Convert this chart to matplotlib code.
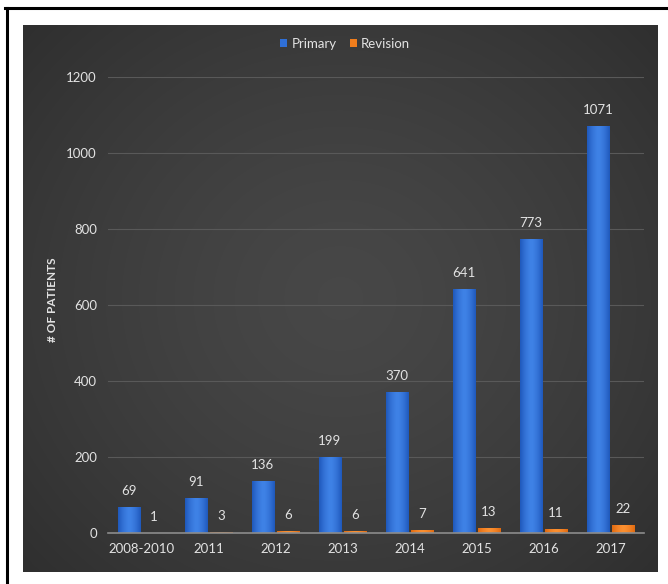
import numpy as np
import matplotlib
matplotlib.use("Agg")
import matplotlib.pyplot as plt
from matplotlib.patches import Patch
from matplotlib.lines import Line2D

categories = ["2008-2010", "2011", "2012", "2013", "2014", "2015", "2016", "2017"]
primary = [69, 91, 136, 199, 370, 641, 773, 1071]
revision = [1, 3, 6, 6, 7, 13, 11, 22]
y_ticks = [0, 200, 400, 600, 800, 1000, 1200]

W, H = 668, 584
TEXT = "#e2e2e2"
BLUE = "#2f6fd6"
ORANGE = "#f07d1c"

plt.rcParams["font.family"] = ["Lato", "DejaVu Sans"]

fig = plt.figure(figsize=(W / 100, H / 100), dpi=100, facecolor="white")


def fx(px):
    return px / W


def fy(py):
    return 1 - py / H


# black frame on top and left
fig.add_artist(Line2D([fx(5), fx(668)], [fy(8), fy(8)], color="black", lw=2.2))
fig.add_artist(Line2D([fx(6.5), fx(6.5)], [fy(8), fy(584)], color="black", lw=2.2))

# dark panel with a soft radial gradient
bg = fig.add_axes([fx(23), fy(572), fx(658) - fx(23), (572 - 25) / H], zorder=0)
gy, gx = np.mgrid[0:1:300j, 0:1:350j]
r = np.sqrt(((gx - 0.5) / 0.6) ** 2 + ((gy - 0.5) / 0.65) ** 2)
shade = np.clip(0.28 - 0.08 * r ** 1.4, 0.16, 0.30)
img = np.dstack([shade, shade, shade])
bg.imshow(img, aspect="auto", extent=[0, 1, 0, 1], interpolation="bilinear")
bg.set_axis_off()

# main plotting axes
ax = fig.add_axes([fx(108), fy(533), fx(644) - fx(108), (533 - 77) / H], zorder=1)
ax.set_facecolor("none")
x = np.arange(len(categories))
bw = 0.33
gap = 0.022

bars_p = ax.bar(x - bw / 2 - gap, primary, bw, color=BLUE, edgecolor="#14284a", linewidth=0.7, zorder=3)
bars_r = ax.bar(x + bw / 2 + gap, revision, bw, color=ORANGE, edgecolor="#4a2a10", linewidth=0.7, zorder=3)


def shade_bars(bars, dark, light):
    dark = np.array(matplotlib.colors.to_rgb(dark))
    light = np.array(matplotlib.colors.to_rgb(light))
    t = np.linspace(-1, 1, 64)
    w = 1 - np.abs(t) ** 1.6
    row = dark[None, :] * (1 - w[:, None]) + light[None, :] * w[:, None]
    grad = row[None, :, :]
    for b in bars:
        x0, y0 = b.get_x(), b.get_y()
        im = ax.imshow(grad, aspect="auto", extent=[x0, x0 + b.get_width(), y0, y0 + b.get_height()],
                       interpolation="bilinear", zorder=3.5)
        im.set_clip_path(b)


shade_bars(bars_p, "#1f58bb", "#3f82e6")
shade_bars(bars_r, "#e06a10", "#fb8f30")

for b, v in zip(list(bars_p) + list(bars_r), primary + revision):
    ax.annotate(str(v), (b.get_x() + b.get_width() / 2, b.get_height()),
                xytext=(0, 11.5), textcoords="offset points", ha="center", va="center",
                color=TEXT, fontsize=9.5, zorder=5, annotation_clip=False)

ax.set_xlim(-0.5, len(categories) - 0.5)
ax.set_ylim(0, 1200)
ax.set_yticks(y_ticks)
ax.set_xticks(x)
ax.set_xticklabels(categories)
ax.tick_params(axis="both", length=0, colors=TEXT, labelsize=9.5)
ax.tick_params(axis="y", pad=8)
ax.tick_params(axis="x", pad=7)
ax.yaxis.grid(True, color="#595959", linewidth=0.8, zorder=0)
ax.set_axisbelow(True)
for s in ["top", "right", "left"]:
    ax.spines[s].set_visible(False)
ax.spines["bottom"].set_color("#8c8c8c")
ax.spines["bottom"].set_linewidth(1.2)
ax.spines["bottom"].set_zorder(4)

fig.text(fx(53), fy(300), "# OF PATIENTS", rotation=90, ha="center", va="center",
         color=TEXT, fontsize=8.5, fontweight="bold")

handles = [Patch(facecolor=BLUE, label="Primary"), Patch(facecolor=ORANGE, label="Revision")]
fig.legend(handles=handles, loc="center", bbox_to_anchor=(fx(345), fy(44)), ncol=2, frameon=False,
           handlelength=0.55, handleheight=0.55, handletextpad=0.3, columnspacing=1.0,
           fontsize=9.5, labelcolor=TEXT)

fig.savefig("out.png", dpi=100, facecolor="white")
